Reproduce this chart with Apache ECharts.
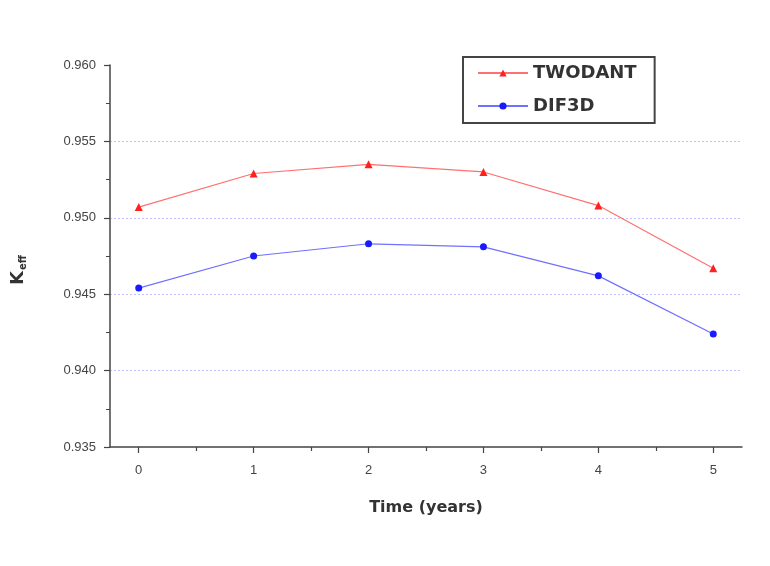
<!DOCTYPE html>
<html>
<head>
<meta charset="utf-8">
<script src="https://cdn.jsdelivr.net/npm/echarts@6/dist/echarts.min.js"></script>
<style>
  html, body { margin: 0; padding: 0; background: #fff; }
  #chart { width: 770px; height: 566px; }
</style>
</head>
<body>
<div id="chart"></div>
<script>
// data
const years = [0, 1, 2, 3, 4, 5]
const halfYears = [0.5, 1.5, 2.5, 3.5, 4.5]
const twodant = [0.9507, 0.9529, 0.9535, 0.9530, 0.9508, 0.9467]
const dif3d = [0.9454, 0.9475, 0.9483, 0.9481, 0.9462, 0.9424]

const pairs = (xs, ys) => xs.map((x, i) => [x, ys[i]])

var chartDom = document.getElementById('chart')
var myChart = echarts.init(chartDom, null, {renderer: 'canvas'})

const labelFont = {color: '#444', fontFamily: 'Liberation Sans, Arial', fontSize: 13}
const titleFont = {color: '#333', fontFamily: 'DejaVu Sans', fontWeight: 'bold'}

var option = {
  backgroundColor: '#fff',
  animation: false,
  grid: {left: 110, right: 28, top: 65, bottom: 119},
  legend: {
    left: 463,
    top: 57,
    orient: 'vertical',
    itemGap: 15,
    itemWidth: 50,
    itemHeight: 9,
    padding: [7, 18, 8, 14],
    borderColor: '#444',
    borderWidth: 2,
    textStyle: Object.assign({fontSize: 18}, titleFont),
    data: ['TWODANT', 'DIF3D']
  },
  xAxis: [
    {
      type: 'value',
      min: -0.25,
      max: 5.25,
      interval: 1,
      name: 'Time (years)',
      nameLocation: 'middle',
      nameGap: 53,
      nameTextStyle: Object.assign({fontSize: 16}, titleFont),
      axisLine: {lineStyle: {color: '#444', width: 1.5}},
      axisTick: {length: 6, lineStyle: {color: '#444', width: 1.2}, customValues: years},
      axisLabel: Object.assign({margin: 17, customValues: years}, labelFont),
      splitLine: {show: false}
    },
    {
      // short ticks half way between the years
      type: 'value',
      position: 'bottom',
      min: -0.25,
      max: 5.25,
      axisLine: {show: false},
      axisTick: {show: true, length: 4, lineStyle: {color: '#444', width: 1.2}, customValues: halfYears},
      axisLabel: {show: false},
      splitLine: {show: false}
    }
  ],
  yAxis: {
    type: 'value',
    min: 0.935,
    max: 0.960,
    interval: 0.005,
    name: '{a|K}{b|eff}',
    nameLocation: 'middle',
    nameRotate: 90,
    nameGap: 82,
    nameTextStyle: {
      padding: [0, 28, 0, 0],
      rich: {
        a: Object.assign({fontSize: 18}, titleFont),
        b: Object.assign({fontSize: 10, padding: [9, 0, 0, 1]}, titleFont)
      }
    },
    axisLine: {show: true, onZero: false, lineStyle: {color: '#444', width: 1.5}},
    axisTick: {show: true, length: 6, lineStyle: {color: '#444', width: 1.2}},
    minorTick: {show: true, splitNumber: 2, length: 4, lineStyle: {color: '#444'}},
    axisLabel: Object.assign({margin: 14, formatter: v => v.toFixed(3)}, labelFont),
    splitLine: {
      show: true,
      showMinLine: false,
      showMaxLine: false,
      lineStyle: {color: '#c0c0ff', type: [2, 2], width: 1}
    }
  },
  series: [
    {
      name: 'TWODANT',
      type: 'line',
      data: pairs(years, twodant),
      symbol: 'triangle',
      symbolSize: 8,
      itemStyle: {color: '#ff2020'},
      lineStyle: {color: '#ff7070', width: 1.2}
    },
    {
      name: 'DIF3D',
      type: 'line',
      data: pairs(years, dif3d),
      symbol: 'circle',
      symbolSize: 7,
      itemStyle: {color: '#1a1aff'},
      lineStyle: {color: '#7070ff', width: 1.2}
    }
  ]
}

option && myChart.setOption(option)
</script>
</body>
</html>
